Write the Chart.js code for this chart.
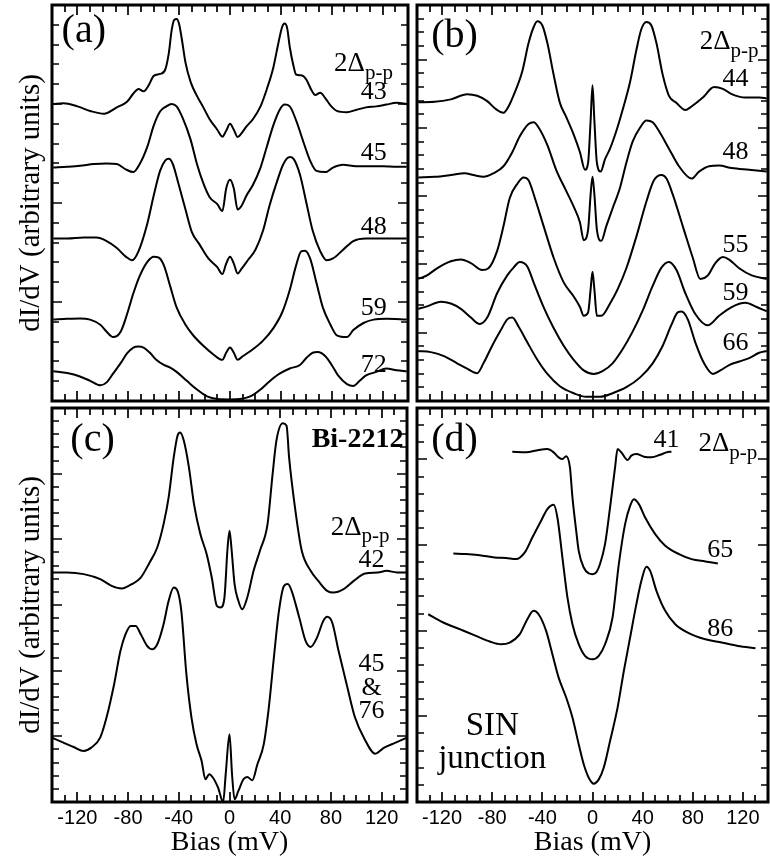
<!DOCTYPE html>
<html>
<head>
<meta charset="utf-8">
<script src="https://cdn.jsdelivr.net/npm/chart.js@4.4.1/dist/chart.umd.min.js"></script>
<style>
  body { margin: 0; background: #fff; }
  #wrap { position: relative; width: 770px; height: 859px; }
  canvas { position: absolute; }
</style>
</head>
<body>
<div id="wrap">
  <canvas id="chartA" width="412" height="404" style="left:0;top:0"></canvas>
  <canvas id="chartB" width="358" height="404" style="left:412px;top:0"></canvas>
  <canvas id="chartC" width="412" height="455" style="left:0;top:404px"></canvas>
  <canvas id="chartD" width="358" height="455" style="left:412px;top:404px"></canvas>
</div>
<script>
// bias tick labels (mV)
const biasTicks = [-120, -80, -40, 0, 40, 80, 120];

// panel (a)
const biasA43 = [-139,-131,-120,-110,-99,-89,-81,-76,-72,-68,-64,-60,-55,-51,-48,-46,-44,-42,-40,-38,-35,-31,-26,-21,-16,-10,-6,-3,0,3,6,9,13,18,24,29,34,38,41,43,45,47,50,52,56,60,64,67,71,75,79,84,92,99,107,115,123,131,139];
const valA43 = [15.0,15.04,14.88,14.65,14.51,14.83,15.11,15.53,15.76,15.64,15.94,16.42,16.52,16.73,17.62,18.68,19.24,19.29,19.03,18.32,17.09,16.12,15.41,14.83,14.23,13.70,13.35,13.65,14.0,13.70,13.33,13.52,13.87,14.23,14.88,15.76,16.82,18.06,18.89,19.06,18.82,17.88,16.91,16.49,16.45,16.24,15.71,15.46,15.57,15.29,14.93,14.65,14.58,14.70,14.83,14.88,14.97,15.06,15.0];
const biasA45 = [-139,-128,-118,-107,-97,-89,-82,-76,-71,-65,-60,-55,-50,-46,-42,-37,-31,-26,-21,-16,-10,-6,-3,0,3,6,9,13,18,24,29,34,39,43,47,52,58,63,68,75,81,89,99,110,120,131,139];
const valA45 = [11.79,11.83,11.88,11.97,12.0,11.97,11.70,11.56,11.97,12.85,13.91,14.62,14.88,15.0,14.88,14.26,13.20,11.97,11.0,10.29,9.94,9.59,10.73,11.17,10.73,9.67,9.85,10.38,10.91,11.79,12.85,13.91,14.70,14.97,14.88,14.17,13.03,12.14,11.62,11.56,11.79,11.93,11.86,11.86,11.86,11.83,11.83];
const biasA48 = [-139,-128,-115,-105,-97,-89,-82,-77,-72,-65,-60,-55,-51,-48,-45,-41,-35,-30,-24,-17,-10,-6,-3,0,3,6,9,14,20,26,31,37,42,47,50,55,60,65,71,76,81,89,97,107,120,139];
const valA48 = [8.21,8.21,8.26,8.26,8.08,7.73,7.29,7.11,7.56,8.97,10.38,11.62,12.14,12.23,11.97,11.09,9.67,8.53,7.91,7.20,6.76,6.41,6.94,7.29,6.94,6.44,6.67,7.11,7.64,8.61,9.85,11.09,11.97,12.32,12.23,11.44,10.03,8.61,7.56,7.11,7.20,7.64,8.08,8.21,8.21,8.21];
const biasA59 = [-139,-128,-118,-110,-102,-97,-92,-86,-81,-76,-71,-65,-60,-56,-52,-47,-42,-35,-29,-21,-13,-6,-3,0,3,6,10,18,26,34,41,47,52,56,59,63,68,73,79,84,92,97,105,113,123,139];
const valA59 = [4.11,4.15,4.17,4.11,3.85,3.50,3.23,3.50,4.38,5.44,6.32,7.03,7.29,7.24,6.85,5.79,4.73,3.85,3.32,2.79,2.35,2.08,2.44,2.70,2.44,2.08,2.26,2.61,3.05,3.67,4.47,5.61,6.85,7.56,7.59,7.20,5.97,4.73,3.85,3.32,3.23,3.58,3.94,4.11,4.15,4.11];
const biasA72 = [-139,-128,-118,-110,-102,-97,-92,-86,-81,-76,-72,-68,-63,-58,-52,-47,-42,-34,-26,-18,-10,0,8,16,24,31,39,47,55,60,65,69,75,80,85,92,97,102,107,115,123,131,139];
const valA72 = [1.50,1.41,1.24,1.02,0.79,0.94,1.38,1.91,2.40,2.70,2.75,2.70,2.44,2.08,1.82,1.69,1.47,1.02,0.58,0.23,0.1,0.08,0.1,0.23,0.58,0.99,1.38,1.64,1.82,2.17,2.44,2.47,2.26,1.82,1.29,0.85,0.76,1.02,1.29,1.47,1.64,1.55,1.50];

// panel (b)
const biasB44 = [-139,-126,-113,-100,-92,-84,-77,-71,-67,-62,-56,-51,-47,-44,-40,-36,-31,-26,-21,-15,-10,-6,-3.5,-1.5,0,1.5,3.5,6.5,10,14,19,24,30,35,39,43,47,51,56,61,67,74,79,88,97,104,111,122,133,139];
const valB44 = [21.88,21.91,22.09,22.47,22.35,21.96,21.37,21.11,21.57,22.60,24.15,26.21,27.37,27.81,27.50,26.21,23.89,21.83,20.80,19.51,18.22,16.93,17.45,20.54,23.12,20.54,17.45,16.80,17.71,18.48,19.77,21.31,23.38,25.70,27.24,27.76,27.50,26.21,23.89,22.35,21.83,21.31,21.57,22.22,22.99,22.86,22.47,22.22,22.22,22.16];
const biasB48 = [-139,-126,-113,-102,-95,-87,-79,-71,-64,-58,-51,-47,-43,-36,-29,-21,-15,-10,-7,-3.5,-1.5,0,1.5,3.5,7,11,16,22,27,32,38,43,48,53,61,69,79,85,93,101,111,125,139];
const valB48 = [16.37,16.42,16.55,16.68,16.55,16.42,16.68,17.19,18.22,19.38,20.28,20.41,20.03,18.74,16.93,15.39,14.23,13.07,11.78,12.55,15.13,16.42,15.13,12.55,11.73,12.81,14.10,15.64,17.45,19.0,20.03,20.54,20.41,19.77,18.48,17.19,16.29,16.80,17.19,17.24,17.06,16.93,16.80];
const biasB55 = [-139,-132,-124,-113,-105,-97,-88,-83,-76,-71,-66,-60,-55,-51,-46,-39,-31,-23,-15,-10,-7,-3.5,-1.5,0,1.5,3.5,7,14,20,27,35,43,49,55,59,64,72,80,86,92,98,104,109,117,127,139];
const valB55 = [8.94,9.20,9.72,10.23,10.36,10.10,9.59,9.72,11.01,12.81,14.87,15.90,16.37,16.16,14.87,12.81,10.49,8.69,7.65,6.88,6.24,6.49,8.17,9.46,8.17,6.24,6.24,7.14,8.17,9.72,12.04,14.61,16.16,16.55,16.29,15.13,12.81,10.49,8.94,9.20,10.10,10.54,10.36,9.72,9.20,8.94];
const biasB59 = [-139,-132,-121,-113,-105,-97,-90,-84,-76,-68,-63,-58,-52,-47,-39,-31,-23,-15,-7,1,8,16,24,32,40,48,55,61,67,74,82,92,101,111,122,131,139];
const valB59 = [6.75,6.93,7.27,7.14,6.75,6.11,5.64,6.11,7.91,9.20,9.77,10.18,9.85,8.69,6.88,5.34,4.05,3.02,2.24,1.98,2.19,2.76,3.79,5.08,6.62,8.43,9.77,10.18,9.59,7.91,6.37,5.54,6.24,6.88,7.19,6.88,6.57];
const biasB66 = [-139,-129,-118,-108,-100,-92,-87,-80,-73,-68,-64,-59,-52,-44,-36,-26,-15,-5,6,16,27,38,48,56,63,68,71,76,82,89,96,102,109,117,125,133,139];
const valB66 = [3.66,3.58,3.27,2.76,2.37,2.04,2.76,4.05,5.21,5.98,6.11,5.46,4.30,3.02,1.98,1.08,0.57,0.31,0.31,0.57,1.01,1.73,2.76,4.05,5.59,6.49,6.55,5.98,4.30,2.76,1.98,2.24,2.63,2.89,3.14,3.53,3.66];

// panel (c)
const biasC42 = [-140,-128,-115,-102,-93,-85,-77,-70,-63,-57,-52,-48,-44,-41,-39,-36,-32,-28,-23,-18,-14,-10,-7,-4,-1.5,0,1.5,4,7,10,14,19,24,30,34,37,42,45,47,52,57,64,70,77,82,90,98,107,117,124,132,140];
const valC42 = [17.48,17.48,17.35,16.97,16.46,16.26,16.59,17.09,18.24,19.38,21.16,23.19,26.24,27.89,28.14,27.51,25.48,22.68,20.40,18.87,17.09,14.94,14.81,15.57,19.38,20.65,19.38,16.59,15.32,14.68,15.57,17.60,19.13,21.16,24.97,27.51,28.83,28.65,26.24,22.17,19.13,17.60,16.84,16.08,15.95,16.21,16.84,17.40,17.48,17.60,17.48,17.48];
const biasC45 = [-140,-131,-123,-115,-109,-102,-97,-91,-86,-82,-78,-74,-70,-65,-61,-57,-52,-48,-44,-41,-38,-34,-30,-26,-22,-19,-16,-13,-9,-5,-3,0,2,4,7,11,14,18,22,27,31,35,39,43,46,49,55,60,64,69,74,77,81,86,93,99,106,115,122,131,140];
const valC45 = [4.90,4.52,4.19,3.89,4.14,4.90,6.43,8.97,11.51,12.78,13.41,13.41,12.78,11.89,11.63,12.01,13.54,15.32,16.33,16.08,14.55,9.73,6.43,4.39,3.12,1.73,2.11,1.85,1.09,0.0,2.11,5.16,2.11,0.20,0.84,1.73,1.91,1.65,2.87,4.39,7.19,11.00,14.55,16.46,16.59,16.08,14.05,12.27,11.81,12.52,13.79,14.10,13.67,11.51,8.71,6.43,4.90,3.68,4.14,4.52,4.90];

// panel (d)
const biasD41 = [-64,-53,-43,-36,-31,-27,-24,-21,-18,-16,-13,-11,-7,-3,0,3,6,10,14,18,20,23,28,31,35,41,47,54,59,63];
const valD41 = [20.45,20.41,20.55,20.60,20.41,20.12,20.02,20.18,19.53,17.78,15.83,14.66,13.69,13.34,13.30,13.40,13.89,15.05,17.20,19.53,20.60,20.41,19.96,20.22,20.31,20.16,20.12,20.27,20.41,20.45];
const biasD65 = [-111,-101,-90,-78,-69,-61,-54,-48,-41,-36,-31,-28,-24,-20,-16,-11,-6,0,5,10,16,21,26,30,33,37,42,50,58,69,79,90,100];
const valD65 = [14.51,14.47,14.41,14.27,14.24,14.18,14.57,15.44,16.42,17.10,17.35,16.61,14.27,11.94,10.38,9.21,8.53,8.33,8.53,9.21,10.77,13.88,16.22,17.29,17.68,17.39,16.61,15.64,14.96,14.47,14.18,14.04,13.92];
const biasD86 = [-131,-119,-106,-93,-82,-73,-66,-58,-52,-47,-43,-37,-32,-27,-21,-16,-11,-7,-3,1,5,9,14,20,25,30,35,39,43,46,51,58,66,76,90,103,116,130];
const valD86 = [10.96,10.48,10.09,9.70,9.37,9.21,9.31,9.80,10.67,11.16,10.96,9.99,8.63,7.26,6.10,4.93,3.37,2.20,1.42,1.07,1.32,2.01,3.56,5.51,7.65,9.60,11.55,12.91,13.73,13.49,12.33,11.16,10.38,9.89,9.50,9.31,9.11,8.98];

// text placed in data coordinates of each panel
const notesA = [
  { t: '(a)', x: -115, y: 18.65, size: 40 },
  { t: '2Δ', sub: 'p-p', x: 105, y: 17.0, size: 27 },
  { t: '43', x: 113, y: 15.6, size: 26 },
  { t: '45', x: 113, y: 12.5, size: 26 },
  { t: '48', x: 113, y: 8.8, size: 26 },
  { t: '59', x: 113, y: 4.7, size: 26 },
  { t: '72', x: 113, y: 1.8, size: 26 }
];
const notesB = [
  { t: '(b)', x: -110, y: 26.7, size: 40 },
  { t: '2Δ', sub: 'p-p', x: 109, y: 26.3, size: 27 },
  { t: '44', x: 114, y: 23.6, size: 26 },
  { t: '48', x: 114, y: 18.2, size: 26 },
  { t: '55', x: 114, y: 11.4, size: 26 },
  { t: '59', x: 114, y: 7.9, size: 26 },
  { t: '66', x: 114, y: 4.2, size: 26 }
];
const notesC = [
  { t: '(c)', x: -108, y: 27.5, size: 40 },
  { t: 'Bi-2212', x: 101, y: 27.6, size: 28, bold: true },
  { t: '2Δ', sub: 'p-p', x: 103, y: 20.9, size: 27 },
  { t: '42', x: 112, y: 18.4, size: 26 },
  { t: '45', x: 112, y: 10.5, size: 26 },
  { t: '&', x: 112, y: 8.7, size: 26 },
  { t: '76', x: 112, y: 6.9, size: 26 }
];
const notesD = [
  { t: '(d)', x: -110, y: 21.1, size: 40 },
  { t: '41', x: 59, y: 21.1, size: 26 },
  { t: '2Δ', sub: 'p-p', x: 108, y: 20.9, size: 27 },
  { t: '65', x: 102, y: 14.7, size: 26 },
  { t: '86', x: 102, y: 10.1, size: 26 },
  { t: 'SIN', x: -80, y: 4.4, size: 33 },
  { t: 'junction', x: -80, y: 2.5, size: 33 }
];

Chart.defaults.color = '#000';
const SERIF = "'Liberation Serif', 'Times New Roman', serif";

const pts = (xs, ys) => xs.map((x, i) => ({ x, y: ys[i] }));
const curve = (xs, ys) => ({
  data: pts(xs, ys),
  borderColor: '#000',
  borderWidth: 2,
  pointRadius: 0,
  cubicInterpolationMode: 'monotone'
});

// frame with inward ticks on all four sides
const framePlugin = {
  id: 'frame',
  afterDatasetsDraw(chart) {
    const { ctx, chartArea: a, scales: { x, y } } = chart;
    ctx.save();
    ctx.strokeStyle = '#000';
    ctx.lineWidth = 1.7;
    ctx.beginPath();
    for (let v = -130; v <= 130; v += 10) {
      const px = Math.round(x.getPixelForValue(v));
      const len = v % 40 === 0 ? 10 : 7;
      ctx.moveTo(px, a.bottom); ctx.lineTo(px, a.bottom - len);
      ctx.moveTo(px, a.top); ctx.lineTo(px, a.top + len);
    }
    for (let v = 1; v < y.max; v++) {
      const py = Math.round(y.getPixelForValue(v));
      const len = v % 5 === 0 ? 10 : 7;
      ctx.moveTo(a.left, py); ctx.lineTo(a.left + len, py);
      ctx.moveTo(a.right, py); ctx.lineTo(a.right - len, py);
    }
    ctx.stroke();
    ctx.lineWidth = 3;
    ctx.strokeRect(a.left, a.top, a.right - a.left, a.bottom - a.top);
    ctx.restore();
  }
};

function notesPlugin(items) {
  return {
    id: 'notes',
    afterDraw(chart) {
      const { ctx, scales: { x, y } } = chart;
      ctx.save();
      ctx.fillStyle = '#000';
      ctx.textBaseline = 'middle';
      items.forEach(n => {
        const px = x.getPixelForValue(n.x);
        const py = y.getPixelForValue(n.y);
        const main = (n.bold ? 'bold ' : '') + n.size + 'px ' + SERIF;
        if (!n.sub) {
          ctx.font = main;
          ctx.textAlign = 'center';
          ctx.fillText(n.t, px, py);
          return;
        }
        const subFont = Math.round(n.size * 0.78) + 'px ' + SERIF;
        ctx.font = main;
        const w1 = ctx.measureText(n.t).width;
        ctx.font = subFont;
        const w2 = ctx.measureText(n.sub).width;
        const sx = px - (w1 + w2) / 2;
        ctx.textAlign = 'left';
        ctx.font = main;
        ctx.fillText(n.t, sx, py);
        ctx.font = subFont;
        ctx.fillText(n.sub, sx + w1, py + n.size * 0.35);
      });
      ctx.restore();
    }
  };
}

function panel(id, datasets, yMax, notes, showX, showY, pad) {
  return new Chart(document.getElementById(id), {
    type: 'line',
    data: { datasets },
    options: {
      responsive: false,
      animation: false,
      layout: { padding: pad },
      plugins: { legend: { display: false }, tooltip: { enabled: false } },
      scales: {
        x: {
          type: 'linear', min: -140, max: 140,
          display: showX,
          grid: { display: false, drawTicks: false },
          border: { display: false },
          afterBuildTicks: s => { s.ticks = biasTicks.map(v => ({ value: v })); },
          ticks: { font: { family: "'Liberation Sans', Arial, sans-serif", size: 20 }, padding: 4, maxRotation: 0, autoSkip: false },
          title: { display: showX, text: 'Bias (mV)', font: { family: SERIF, size: 28 }, padding: { top: 0, bottom: 0 } },
          afterFit: s => { if (showX) s.height = 57; }
        },
        y: {
          type: 'linear', min: 0, max: yMax,
          display: showY,
          grid: { display: false, drawTicks: false },
          border: { display: false },
          ticks: { display: false },
          title: { display: showY, text: 'dI/dV (arbitrary units)', font: { family: SERIF, size: 29 }, padding: { top: 14, bottom: 0 } },
          afterFit: s => { if (showY) s.width = 52; }
        }
      }
    },
    plugins: [framePlugin, notesPlugin(notes)]
  });
}

panel('chartA', [
  curve(biasA43, valA43), curve(biasA45, valA45), curve(biasA48, valA48),
  curve(biasA59, valA59), curve(biasA72, valA72)
], 20, notesA, false, true, { top: 5, right: 4, bottom: 3, left: 0 });

panel('chartB', [
  curve(biasB44, valB44), curve(biasB48, valB48), curve(biasB55, valB55),
  curve(biasB59, valB59), curve(biasB66, valB66)
], 29, notesB, false, false, { top: 5, right: 2, bottom: 3, left: 5 });

panel('chartC', [
  curve(biasC42, valC42), curve(biasC45, valC45)
], 30, notesC, true, true, { top: 4, right: 5, bottom: 0, left: 0 });

panel('chartD', [
  curve(biasD41, valD41), curve(biasD65, valD65), curve(biasD86, valD86)
], 23, notesD, true, false, { top: 4, right: 2, bottom: 0, left: 5 });
</script>
</body>
</html>
